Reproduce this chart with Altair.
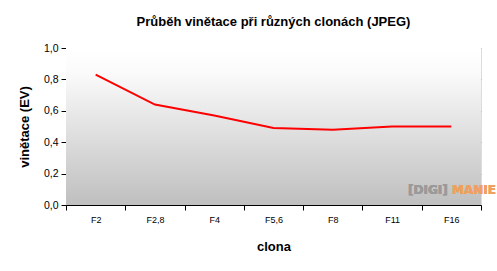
import altair as alt
import pandas as pd

categories = ["F2", "F2,8", "F4", "F5,6", "F8", "F11", "F16"]
values = [0.83, 0.64, 0.57, 0.49, 0.48, 0.50, 0.50]
y_ticks = [0.0, 0.2, 0.4, 0.6, 0.8, 1.0]

df = pd.DataFrame({"clona": categories, "v": values})

W, H = 415, 157
FONT = "Liberation Sans"

bg = alt.Chart(df).mark_rect(
    color=alt.LinearGradient(
        gradient="linear", x1=0, y1=0, x2=0, y2=1,
        stops=[alt.GradientStop(color="#ffffff", offset=0),
               alt.GradientStop(color="#fbfbfb", offset=0.15),
               alt.GradientStop(color="#bfbfbf", offset=1)]
    )
).encode(x=alt.value(0), x2=alt.value(W), y=alt.value(0), y2=alt.value(H))

x_enc = alt.X("clona:N", sort=categories, title="clona",
              scale=alt.Scale(paddingInner=0, paddingOuter=0),
              axis=alt.Axis(labelAngle=0, tickBand="extent", domainColor="#000000",
                            tickColor="#000000", tickSize=5, labelFontSize=9,
                            labelColor="#000000", labelPadding=5,
                            titleFontSize=13, titleFontWeight="bold",
                            titlePadding=16, labelFont=FONT, titleFont=FONT))

y_enc = alt.Y("v:Q", title="vinětace (EV)",
              scale=alt.Scale(domain=[0, 1]),
              axis=alt.Axis(values=y_ticks,
                            labelExpr="replace(format(datum.value, '.1f'), '.', ',')",
                            grid=True, gridColor="#a8a8a8", domainColor="#000000",
                            tickColor="#000000", tickSize=5, labelFontSize=10.5,
                            labelColor="#000000", labelPadding=3,
                            titleFontSize=13, titleFontWeight="bold",
                            titlePadding=12, labelFont=FONT, titleFont=FONT))

line = alt.Chart(df).mark_line(color="#ff0000", strokeWidth=2).encode(x=x_enc, y=y_enc)

wm1 = alt.Chart(df).mark_text(text="[DIGI]", font="DejaVu Sans", fontSize=12,
                              fontWeight="bold", color="#9a9a9a", opacity=0.6,
                              align="left", baseline="middle").encode(
    x=alt.value(342), y=alt.value(142))
wm2 = alt.Chart(df).mark_text(text="MANIE", font="DejaVu Sans", fontSize=12,
                              fontWeight="bold", color="#f0a060", opacity=0.6,
                              align="left", baseline="middle").encode(
    x=alt.value(386), y=alt.value(142))

chart = alt.layer(bg, line, wm1, wm2).properties(
    width=W, height=H,
    title=alt.TitleParams("Průběh vinětace při různých clonách (JPEG)",
                          font=FONT, fontSize=13, fontWeight="bold",
                          color="#000000", anchor="middle", offset=14),
    autosize=alt.AutoSizeParams(type="none"),
    padding={"left": 66, "top": 48, "right": 16, "bottom": 66},
).configure_view(stroke="#808080", strokeWidth=1).configure(background="#ffffff")

chart.save("out.html", embed_options={"renderer": "svg", "actions": False})
